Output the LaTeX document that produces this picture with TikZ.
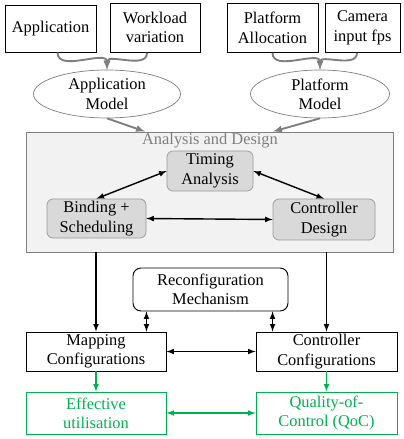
\documentclass[tikz,border=0pt]{standalone}
\usepackage{fontspec}
\setmainfont{Liberation Serif}
\usepackage{tikz}
\usetikzlibrary{shapes.geometric}
\usetikzlibrary{positioning}
\usetikzlibrary{calc}
\definecolor{linegray}{HTML}{7F7F7F}
\definecolor{boxgray}{HTML}{F2F2F2}
\definecolor{stepgray}{HTML}{D9D9D9}
\definecolor{qgreen}{HTML}{00B050}
\tikzset{every node/.style={font=\fontsize{14}{16.5}\selectfont,align=center,inner sep=0pt},
inbox/.style={draw,line width=0.8pt},
model/.style={ellipse,draw=linegray,line width=0.6pt},
stepbox/.style={draw=linegray!80,fill=stepgray,rounded corners=0.18cm,line width=0.6pt},
greenbox/.style={draw=qgreen,text=qgreen,line width=0.8pt},
feed/.style={-latex,linegray,line width=1.6pt},
link/.style={latex-latex,line width=1.2pt}}

\begin{document}
\begin{tikzpicture}
\useasboundingbox (0,0) rectangle (12.09,-13.17);

% inputs
\node (app) at (1.515,-0.855) [inbox,minimum width=2.73cm,minimum height=1.41cm] {Application};
\node (work) at (4.65,-0.83) [inbox,minimum width=2.7cm,minimum height=1.48cm] {Workload\\variation};
\node (plat) at (8.175,-0.83) [inbox,minimum width=2.73cm,minimum height=1.48cm] {Platform\\Allocation};
\node (cam) at (10.875,-0.83) [inbox,minimum width=2.25cm,minimum height=1.48cm] {Camera\\input fps};

% models
\node (appm) at (3.21,-2.82) [model,minimum width=4.41cm,minimum height=1.44cm] {Application\\Model};
\node (platm) at (9.6,-2.82) [model,minimum width=4.17cm,minimum height=1.44cm] {Platform\\Model};

\draw[feed] ([xshift=0.21cm]app.south) to [out=-90,in=90] (appm.north);
\draw[feed] ([xshift=-0.24cm]work.south) to [out=-90,in=90] (appm.north);
\draw[feed] (plat.south) to [out=-90,in=90] (platm.north);
\draw[feed] ([xshift=-0.165cm]cam.south) to [out=-90,in=90] (platm.north);

% analysis and design
\node (anl) at (6.285,-5.76) [draw=linegray,fill=boxgray,line width=0.8pt,minimum width=11.01cm,minimum height=3.6cm] {};
\node (anln) at (6.3,-4.23) [text=linegray] {Analysis and Design};

\draw[feed] (appm.south) -- ([xshift=-1.935cm]anl.north);
\draw[feed] (platm.south) -- ([xshift=1.905cm]anl.north);

\node (timing) at (6.3,-5.13) [stepbox,minimum width=2.58cm,minimum height=1.2cm] {Timing\\Analysis};
\node (bind) at (2.895,-6.555) [stepbox,minimum width=2.97cm,minimum height=1.17cm] {Binding +\\Scheduling};
\node (ctrl) at (9.72,-6.585) [stepbox,minimum width=3.06cm,minimum height=1.23cm] {Controller\\Design};

\draw[link] (timing.west) -- (bind.north);
\draw[link] (timing.east) -- (ctrl.north);
\draw[link] (bind.east) -- (ctrl.west);

% configurations
\node (reconf) at (6.315,-8.685) [inbox,rounded corners=0.24cm,minimum width=4.65cm,minimum height=1.29cm] {Reconfiguration\\Mechanism};
\node (mapc) at (2.88,-10.545) [inbox,minimum width=4.2cm,minimum height=1.17cm] {Mapping\\Configurations};
\node (ctrlc) at (9.795,-10.545) [inbox,minimum width=4.23cm,minimum height=1.17cm] {Controller\\Configurations};

\draw[-latex,line width=1.2pt] (mapc.north |- anl.south) -- (mapc.north);
\draw[-latex,line width=1.2pt] (ctrlc.north |- anl.south) -- (ctrlc.north);
\draw[link] ([xshift=-0.6cm]mapc.north east) -- ([xshift=-0.6cm]mapc.north east |- reconf.south);
\draw[link] ([xshift=0.51cm]ctrlc.north west) -- ([xshift=0.51cm]ctrlc.north west |- reconf.south);
\draw[link] (mapc.east) -- (ctrlc.west);

% quality
\node (eff) at (2.88,-12.39) [greenbox,minimum width=4.2cm,minimum height=1.26cm] {Effective\\utilisation};
\node (qoc) at (9.795,-12.39) [greenbox,minimum width=4.23cm,minimum height=1.26cm] {Quality-of-\\Control (QoC)};

\draw[-latex,qgreen,line width=1.2pt] (mapc.south) -- (eff.north);
\draw[-latex,qgreen,line width=1.2pt] (ctrlc.south) -- (qoc.north);
\draw[latex-latex,qgreen,line width=1.2pt] (eff.east) -- (qoc.west);
\end{tikzpicture}
\end{document}
